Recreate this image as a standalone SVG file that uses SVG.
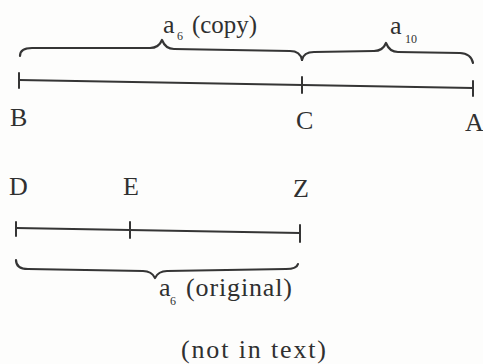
<svg xmlns="http://www.w3.org/2000/svg" width="483" height="364" viewBox="0 0 483 364">
<style>
.ln{fill:none;stroke:#353535;stroke-width:2;stroke-linecap:round;stroke-linejoin:round}
.br{fill:none;stroke:#353535;stroke-width:2.2;stroke-linecap:round;stroke-linejoin:round}
.t{font-family:'Liberation Serif','Times New Roman',serif;font-size:26px;fill:#303030}
.s{font-family:'Liberation Serif','Times New Roman',serif;font-size:12px;fill:#303030}
</style>
<rect width="483" height="364" fill="#fdfdfc"/>
<g id="connectors">
<path class="ln" d="M19,80 L473,88"/>
<path class="ln" d="M19,73 L19,88 M302,77 L302,93 M473,81 L473,96"/>
<path class="ln" d="M16,228 L300,233"/>
<path class="ln" d="M16,222 L16,236 M130,222 L130,238 M300,225 L300,242"/>
<path class="br" d="M20,56 C20,51 24,48 32,48 L150,48 C157,48 160,45 162,40 C164,45 167,49 174,49 L290,51 C297,51 301,55 302,60"/>
<path class="br" d="M302,60 C303,55 307,52 314,52 L374,51 C381,51 384,48 386,43 C388,48 391,52 398,52 L460,53 C467,53 472,57 473,63"/>
<path class="br" d="M16,260 C16,266 20,269 28,269 L143,271 C150,271 153,274 155,278 C157,274 160,271 167,271 L286,269 C293,269 297,268 298,264"/>
</g>
<g id="B"><text class="t" x="10" y="126">B</text></g>
<g id="C"><text class="t" x="296" y="129">C</text></g>
<g id="A"><text class="t" x="465" y="131">A</text></g>
<g id="D"><text class="t" x="9" y="195">D</text></g>
<g id="E"><text class="t" x="123" y="195">E</text></g>
<g id="Z"><text class="t" x="293" y="197">Z</text></g>
<g id="label-a6-copy">
<text class="t" x="163" y="33">a</text>
<text class="s" x="177" y="40">6</text>
<text class="t" x="192" y="33" textLength="65" lengthAdjust="spacingAndGlyphs">(copy)</text>
</g>
<g id="label-a10">
<text class="t" x="390" y="34">a</text>
<text class="s" x="405" y="43">10</text>
</g>
<g id="label-a6-original">
<text class="t" x="159" y="296">a</text>
<text class="s" x="170" y="305">6</text>
<text class="t" x="186" y="296" textLength="106" lengthAdjust="spacing">(original)</text>
</g>
<g id="note">
<text class="t" x="181" y="358" textLength="145" lengthAdjust="spacing">(not in text)</text>
</g>
</svg>
